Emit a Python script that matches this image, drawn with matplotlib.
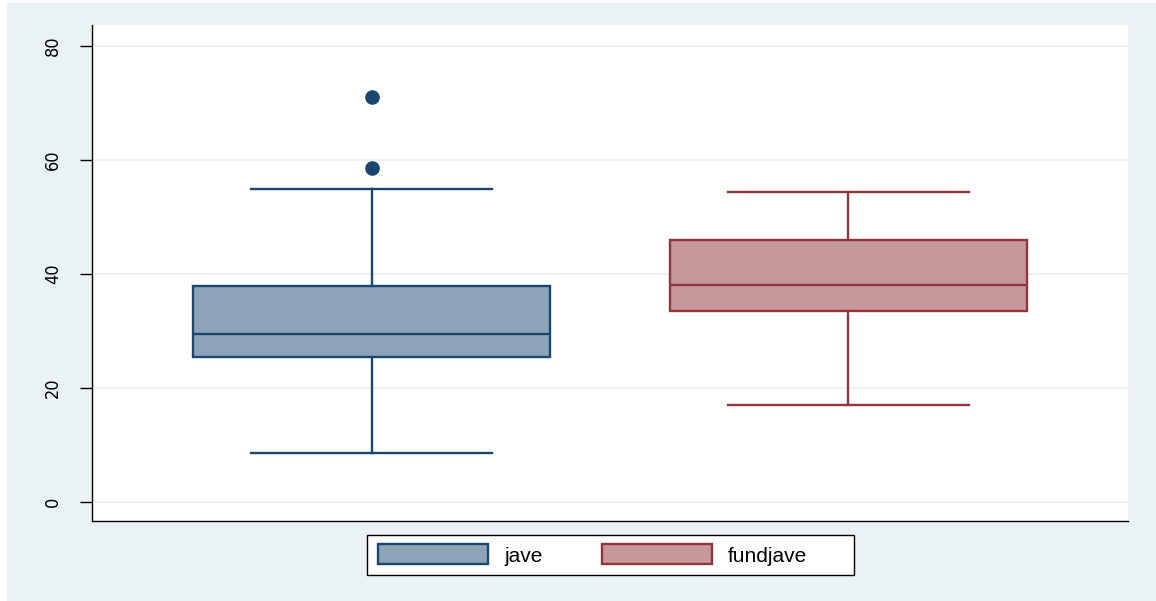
import matplotlib
matplotlib.use("Agg")
import matplotlib.pyplot as plt
from matplotlib.patches import Rectangle, Patch

# box statistics
labels = ['jave', 'fundjave']
q1 = [25.4, 33.5]
med = [29.5, 38.1]
q3 = [37.9, 46.0]
whislo = [8.6, 17.0]
whishi = [54.9, 54.4]
fliers = [[58.6, 71.05], []]
yticks = [0, 20, 40, 60, 80]

fills = ['#8DA4B8', '#C79899']
edges = ['#1A476F', '#90353B']
bg = '#EAF2F3'

W, H = 1156, 601
fig = plt.figure(figsize=(W / 100, H / 100), dpi=100)
fig.patch.set_facecolor('white')
# stata style outer region
fig.patches.append(Rectangle((7 / W, 0), 1 - 7 / W, 1 - 3 / H,
                             transform=fig.transFigure, facecolor=bg,
                             edgecolor='none', zorder=-10))

ax = fig.add_axes([92 / W, 1 - 521 / H, (1128 - 92) / W, (521 - 25) / H])
ax.set_facecolor('white')

for i in range(len(labels)):
    stats = [dict(label=labels[i], q1=q1[i], med=med[i], q3=q3[i],
                  whislo=whislo[i], whishi=whishi[i], fliers=fliers[i])]
    ax.bxp(stats, positions=[i + 1], widths=0.75, capwidths=0.506,
           patch_artist=True, showfliers=True,
           boxprops=dict(facecolor=fills[i], edgecolor=edges[i], linewidth=1.7),
           medianprops=dict(color=edges[i], linewidth=1.7),
           whiskerprops=dict(color=edges[i], linewidth=1.7),
           capprops=dict(color=edges[i], linewidth=1.7),
           flierprops=dict(marker='o', markerfacecolor=edges[i],
                           markeredgecolor=edges[i], markersize=9.5))

ax.set_xlim(0.412, 2.588)
ax.set_ylim(-3.33, 83.7)
ax.set_xticks([])
ax.set_yticks(yticks)
ax.set_yticklabels([str(t) for t in yticks], rotation=90, va='center',
                   family='DejaVu Sans', stretch='condensed', fontsize=13)
ax.tick_params(axis='y', direction='out', length=8.6, width=1.0, pad=13, color='black')
ax.yaxis.grid(True, color=bg, linewidth=1.5)
ax.set_axisbelow(True)

for s in ['top', 'right']:
    ax.spines[s].set_visible(False)
for s in ['left', 'bottom']:
    ax.spines[s].set_linewidth(1.0)
    ax.spines[s].set_color('black')

# legend frame drawn by hand, stata leaves extra room on the right
fig.patches.append(Rectangle((367 / W, 1 - 575 / H), (854 - 367) / W, 40 / H,
                             transform=fig.transFigure, facecolor='white',
                             edgecolor='black', linewidth=1.0, zorder=1))
handles = [Patch(facecolor=fills[i], edgecolor=edges[i], linewidth=1.7, label=labels[i])
           for i in range(len(labels))]
leg = fig.legend(handles=handles, loc='center left', ncol=2,
                 bbox_to_anchor=(378 / W, 1 - 555 / H),
                 prop=dict(family=['Liberation Sans', 'DejaVu Sans'], size=15),
                 frameon=False, borderpad=0, borderaxespad=0,
                 handlelength=5.29, handleheight=1.1, handletextpad=0.77,
                 columnspacing=2.84)
leg.set_zorder(2)

fig.savefig('out.png', dpi=100)
